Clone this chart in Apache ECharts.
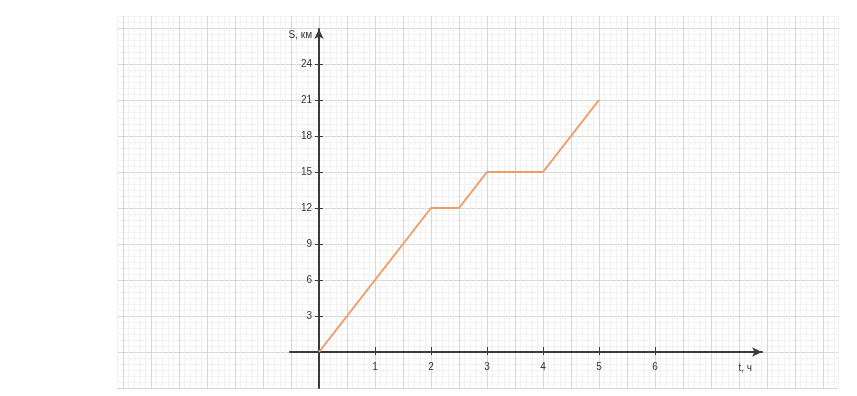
<!DOCTYPE html>
<html>
<head>
<meta charset="utf-8">
<script src="https://cdn.jsdelivr.net/npm/echarts@6/dist/echarts.min.js"></script>
<style>
html,body{margin:0;padding:0;background:#fff;}
#chart{width:857px;height:396px;}
</style>
</head>
<body>
<div id="chart"></div>
<script>
// Data: time (hours) and distance (km)
const timeValues = [0, 2, 2.5, 3, 4, 5];
const distValues = [0, 12, 12, 15, 15, 21];
const xTickLabels = [1, 2, 3, 4, 5, 6];
const yTickLabels = [3, 6, 9, 12, 15, 18, 21, 24];
const xName = 't, ч';
const yName = 'S, км';

const FONT = 'Liberation Sans';
const axisColor = '#3a3a3a';
const minorColor = '#f1f1f1';
const majorColor = '#d6d6d6';
const lineColor = '#ee9d66';

const points = timeValues.map((t, i) => [t, distValues[i]]);

const hidden = {
  axisLine: { show: false, onZero: false },
  axisTick: { show: false },
  axisLabel: { show: false }
};

const chart = echarts.init(document.getElementById('chart'), null, { renderer: 'canvas' });
chart.setOption({
  animation: false,
  backgroundColor: '#fff',
  grid: [
    { left: 117.4, right: 18.9, top: 16, bottom: 8, outerBoundsMode: 'none', containLabel: false },
    { left: 123, right: 18.9, top: 16, bottom: 8, outerBoundsMode: 'none', containLabel: false },
    { left: 290, right: 95, top: 29, bottom: 8, outerBoundsMode: 'none', containLabel: false }
  ],
  xAxis: [
    Object.assign({ type: 'value', gridIndex: 0, min: -3.6, max: 9.27, interval: 0.1,
      splitLine: { show: true, showMaxLine: true, lineStyle: { color: minorColor, width: 1 } } }, hidden),
    Object.assign({ type: 'value', gridIndex: 1, min: -3.5, max: 9.27, interval: 0.5,
      splitLine: { show: true, showMaxLine: false, lineStyle: { color: majorColor, width: 1 } } }, hidden),
    {
      type: 'value', gridIndex: 2, position: 'bottom', offset: -36, min: -0.518, max: 7.911,
      splitLine: { show: false },
      axisLine: { show: true, onZero: false,
        symbol: ['none', 'arrow'], symbolSize: [7, 10],
        lineStyle: { color: axisColor, width: 2 } },
      axisTick: { show: true, customValues: xTickLabels, length: 3, inside: false,
        lineStyle: { color: axisColor, width: 1 } },
      axisLabel: { show: true, customValues: xTickLabels, margin: 10,
        fontFamily: FONT, fontSize: 10, color: '#333' },
      name: xName, nameLocation: 'end', nameGap: -10,
      nameTextStyle: { fontFamily: FONT, fontSize: 10, color: '#333',
        align: 'right', verticalAlign: 'top', padding: [11, 0, 0, 0] }
    },
    {
      type: 'value', gridIndex: 2, position: 'top', offset: -323, min: -0.518, max: 7.911,
      splitLine: { show: false },
      axisLine: { show: true, onZero: false,
        lineStyle: { color: 'rgba(0,0,0,0)', width: 0 } },
      axisTick: { show: true, customValues: xTickLabels, length: 5, inside: false,
        lineStyle: { color: axisColor, width: 1 } },
      axisLabel: { show: false }
    }
  ],
  yAxis: [
    Object.assign({ type: 'value', gridIndex: 0, position: 'left', min: -3, max: 28, interval: 0.5,
      splitLine: { show: true, lineStyle: { color: minorColor, width: 1 } } }, hidden),
    Object.assign({ type: 'value', gridIndex: 0, position: 'right', min: -3, max: 28, interval: 3,
      splitLine: { show: true, showMaxLine: false, lineStyle: { color: majorColor, width: 1 } } }, hidden),
    Object.assign({ type: 'value', gridIndex: 1, min: -3, max: 28, interval: 1,
      splitLine: { show: false } }, hidden),
    {
      type: 'value', gridIndex: 2, position: 'left', offset: -29, min: -3, max: 26.917,
      splitLine: { show: false },
      axisLine: { show: true, onZero: false,
        symbol: ['none', 'arrow'], symbolSize: [7, 10],
        lineStyle: { color: axisColor, width: 2 } },
      axisTick: { show: true, customValues: yTickLabels, length: 4, inside: false,
        lineStyle: { color: axisColor, width: 1 } },
      axisLabel: { show: true, customValues: yTickLabels, margin: 7,
        fontFamily: FONT, fontSize: 10, color: '#333' },
      name: yName, nameLocation: 'end', nameGap: -6,
      nameTextStyle: { fontFamily: FONT, fontSize: 10, color: '#333',
        align: 'right', verticalAlign: 'middle', padding: [0, 7, 0, 0] }
    },
    {
      type: 'value', gridIndex: 2, position: 'right', offset: -443, min: -3, max: 26.917,
      splitLine: { show: false },
      axisLine: { show: true, onZero: false,
        lineStyle: { color: 'rgba(0,0,0,0)', width: 0 } },
      axisTick: { show: true, customValues: yTickLabels, length: 4, inside: false,
        lineStyle: { color: axisColor, width: 1 } },
      axisLabel: { show: false }
    }
  ],
  series: [
    {
      type: 'line',
      xAxisIndex: 2,
      yAxisIndex: 3,
      data: points,
      symbol: 'none',
      lineStyle: { color: lineColor, width: 2 },
      z: 5
    }
  ]
});
</script>
</body>
</html>
